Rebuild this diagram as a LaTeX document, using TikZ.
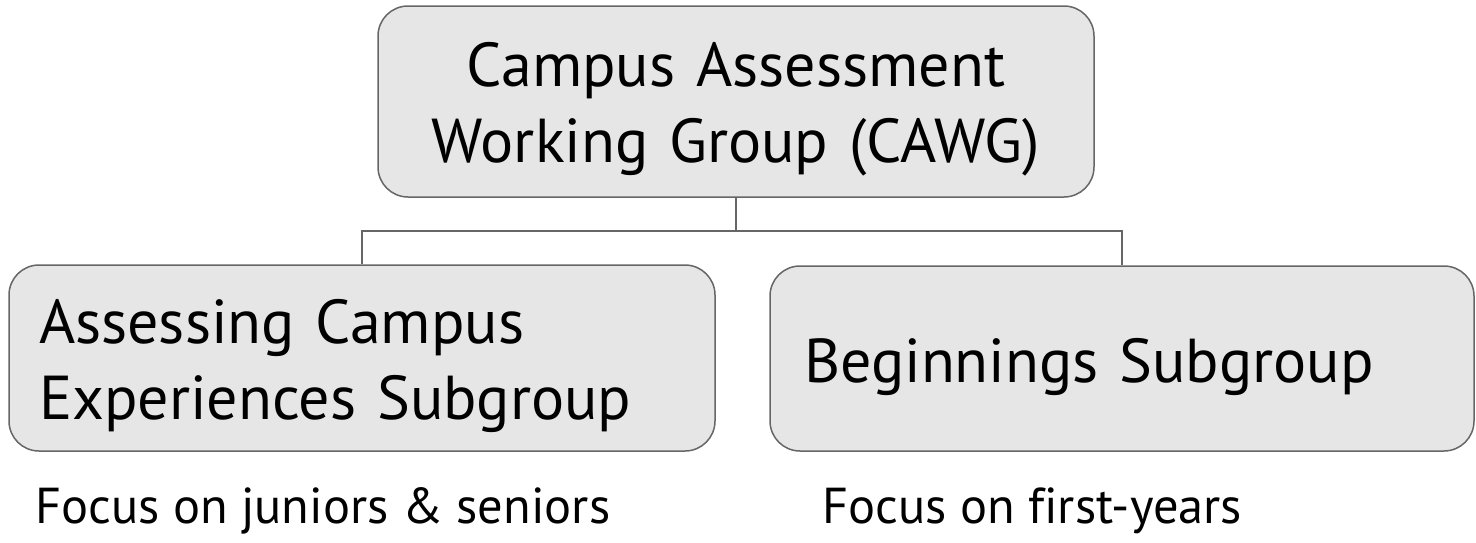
\documentclass[tikz,border=0pt]{standalone}
\usepackage{fontspec}
\setmainfont{PT Sans}[Ligatures=NoCommon]
\usepackage{tikz}
\usetikzlibrary{positioning, calc}
\definecolor{boxfill}{RGB}{230,230,230}
\definecolor{boxline}{RGB}{102,102,102}

\begin{document}
\begin{tikzpicture}[x=1pt, y=-1pt, group/.style={draw=boxline, fill=boxfill, line width=1.5pt, rounded corners=30pt, font=\fontsize{62}{76}\selectfont, text height=46pt, text depth=76pt}, note/.style={font=\fontsize{50.5}{60}\selectfont, inner sep=0pt, anchor=base west}, link/.style={draw=boxline, line width=1.5pt} ]
		\useasboundingbox (0,0) rectangle (1476,542);
		\node[group, minimum width=716pt, minimum height=191pt, text width=656pt, align=center, text depth=77pt]	(cawg) at (736,101.5) {Campus Assessment\\Working Group (CAWG)};
		\node[group, minimum width=706pt, minimum height=186pt, text width=646pt, align=left]	(ace)  at (362,358)   {Assessing Campus\\Experiences Subgroup};
		\node[group, minimum width=704pt, minimum height=185pt, text width=636pt, align=left, text height=47pt, text depth=0pt]	(beg)  at (1122,358.5) {Beginnings Subgroup};
		
		%notes under the subgroups
		\node[note] (aceNote) at (35,523) {Focus on juniors \& seniors};
		\node[note] (begNote) at (822,523) {Focus on first-years};
		
		%tree lines
		\path[link] (cawg.south) -- ++(0,33) coordinate (fork) -| (ace.north);
		\path[link] (fork) -| (beg.north);
	\end{tikzpicture}
\end{document}
